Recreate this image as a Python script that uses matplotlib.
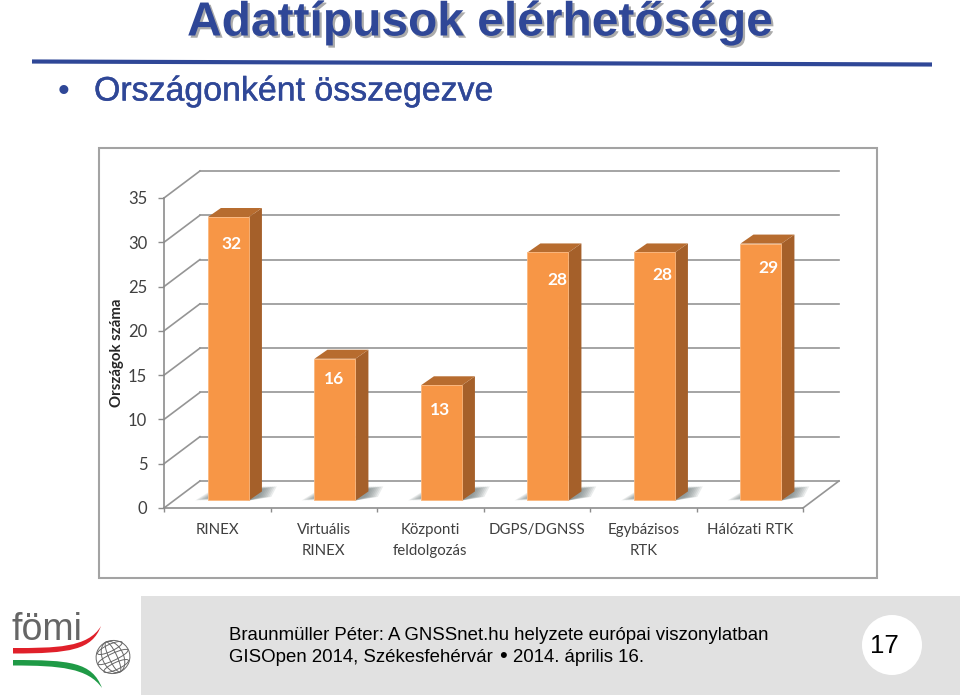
import numpy as np
import matplotlib
matplotlib.use("Agg")
import matplotlib.pyplot as plt
import matplotlib.patheffects as pe
from matplotlib.patches import Rectangle, Circle, Ellipse, PathPatch
from matplotlib.path import Path

categories = ["RINEX", "Virtuális\nRINEX", "Központi\nfeldolgozás", "DGPS/DGNSS", "Egybázisos\nRTK", "Hálózati RTK"]
values = [32, 16, 13, 28, 28, 29]
y_ticks = [0, 5, 10, 15, 20, 25, 30, 35]
y_label = "Országok száma"
title = "Adattípusok elérhetősége"
bullet = "Országonként összegezve"
footer1 = "Braunmüller Péter: A GNSSnet.hu helyzete európai viszonylatban"
footer2_left = "GISOpen 2014, Székesfehérvár"
footer2_right = "2014. április 16."
page = "17"

W, H = 960, 695
fig = plt.figure(figsize=(W / 100, H / 100), dpi=100, facecolor="white")

# slide layer in pixel coordinates
bg = fig.add_axes([0, 0, 1, 1])
bg.set_xlim(0, W); bg.set_ylim(H, 0); bg.axis("off")
NAVY = "#2F4797"
bg.text(480, 23, title, ha="center", va="center", fontsize=34.5, fontweight="bold",
        family="Liberation Sans", color=NAVY,
        path_effects=[pe.SimplePatchShadow(offset=(1.6, -1.6), shadow_rgbFace="#666666", alpha=0.55), pe.Normal()])
bg.plot([32, 932], [61.5, 64.5], color=NAVY, lw=3, solid_capstyle="butt")
bg.text(58, 92, "\u2022", ha="left", va="center", fontsize=24, family="Liberation Sans", color=NAVY)
bg.text(94, 92, bullet, ha="left", va="center", fontsize=24.4, family="Liberation Sans", color=NAVY,
        path_effects=[pe.withStroke(linewidth=0.3, foreground=NAVY)])
bg.add_patch(Rectangle((99, 148), 778, 430, fc="white", ec="#A3A3A3", lw=1.5))
bg.add_patch(Rectangle((141, 596), 819, 99, fc="#E1E1E1", ec="none"))
bg.add_patch(Circle((892, 645), 30, fc="white", ec="none"))
bg.text(884.5, 646, page, ha="center", va="center", fontsize=18.5, family="Liberation Sans", color="black")
bg.text(229, 635, footer1, ha="left", va="center", fontsize=13.4, family="Liberation Sans", color="black")
bg.text(229, 657, footer2_left, ha="left", va="center", fontsize=13.4, family="Liberation Sans", color="black")
bg.text(503, 656, "\u2022", ha="center", va="center", fontsize=16, family="Liberation Sans", color="black")
bg.text(513, 657, footer2_right, ha="left", va="center", fontsize=13.4, family="Liberation Sans", color="black")

# logo
bg.text(11, 640, "fömi", ha="left", va="baseline", fontsize=27, family="Liberation Sans", color="#666666")
C4 = Path.CURVE4
red = Path([(13, 648), (55, 648), (88, 648), (101, 626), (92, 650), (70, 653.5), (13, 653.5), (13, 648)],
           [Path.MOVETO, C4, C4, C4, C4, C4, C4, Path.CLOSEPOLY])
green = Path([(13, 660), (70, 660), (92, 662), (102, 688), (88, 668), (60, 665.5), (13, 665.5), (13, 660)],
             [Path.MOVETO, C4, C4, C4, C4, C4, C4, Path.CLOSEPOLY])
bg.add_patch(PathPatch(red, fc="#E0202A", ec="none"))
bg.add_patch(PathPatch(green, fc="#1F9A46", ec="none"))
for w in (34, 21, 8):
    bg.add_patch(Ellipse((113, 657), w, 33, angle=-25, fc="none", ec="#666666", lw=0.7))
for d, w in ((0, 33), (-9, 27), (9, 27)):
    bg.add_patch(Ellipse((113 + d * 0.35, 657 + d), w, 7, angle=-25, fc="none", ec="#666666", lw=0.7))

# chart axes: front plane of the 3D box
ax = fig.add_axes([164 / W, 1 - 508 / H, 639 / W, 310 / H])
ax.set_xlim(0, 6); ax.set_ylim(0, 35)
ax.patch.set_alpha(0)
for s in ("top", "right"):
    ax.spines[s].set_visible(False)
for s in ("left", "bottom"):
    ax.spines[s].set_color("#8C8C8C"); ax.spines[s].set_linewidth(1.2)

DX, DY = 0.3375, 3.05          # depth of the chart box
GRID = "#959595"
for t in y_ticks:
    ax.plot([0, DX], [t, t + DY], color=GRID, lw=1.2, clip_on=False, zorder=1)
    ax.plot([DX, 6 + DX], [t + DY, t + DY], color=GRID, lw=1.2, clip_on=False, zorder=1)
ax.plot([6, 6 + DX], [0, DY], color=GRID, lw=1.2, clip_on=False, zorder=1)

xpos = np.arange(len(values)) + 0.5
BW = 0.385
SX, SY = 0.105, 0.85           # offset of bars into the box
BX, BY = 0.122, 1.02           # depth of each bar
FACE, SIDE, TOP = "#F79646", "#A5602A", "#B76C2F"
for x, v in zip(xpos, values):
    l, r = x + SX - BW / 2, x + SX + BW / 2
    for k in np.linspace(1.0, 0.15, 8):          # soft floor shadow
        ax.fill([l - 0.12 * k, l, r, r + 0.07 + 0.14 * k, r + BX + 0.14 * k],
                [SY, SY + 0.9 * k, SY, SY + 0.4, SY + 1.6],
                color="#5F6E6E", alpha=0.13, lw=0, zorder=2, clip_on=False)
    ax.fill([r, r + BX, r + BX, r], [SY, SY + BY, v + SY + BY, v + SY], color=SIDE, lw=0, zorder=3)
    ax.fill([l, r, r + BX, l + BX], [v + SY, v + SY, v + SY + BY, v + SY + BY], color=TOP, lw=0, zorder=3)
ax.bar(xpos + SX, values, width=BW, bottom=SY, color=FACE, edgecolor="#FBB77E", linewidth=0.6, zorder=4)
for x, v, drop, nudge in zip(xpos, values, (3, 2.3, 2.8, 3.1, 2.6, 2.8), (0.025, -0.01, -0.01, 0.09, 0.07, 0.07)):
    ax.text(x + SX + nudge, v + SY - drop, str(v), ha="center", va="center", color="white",
            fontsize=12.5, fontweight="bold", family="Lato", zorder=5)

ax.set_yticks(y_ticks)
ax.set_xticks(np.arange(0, 7))
ax.set_xticklabels([])
ax.tick_params(axis="y", length=4, width=1, color="#8C8C8C", labelsize=12, labelcolor="#404040", pad=8)
ax.tick_params(axis="x", length=3, width=1, color="#8C8C8C", direction="out")
for lab in ax.get_yticklabels():
    lab.set_family("Lato")
for x, c in zip(xpos, categories):
    ax.annotate(c, (x, 0), xytext=(0, -11), textcoords="offset points", ha="center", va="top",
                fontsize=10.8, family="Lato", color="#404040", linespacing=1.65, annotation_clip=False)
ax.text(-0.44, 17.5, y_label, rotation=90, ha="center", va="center", fontsize=10.8,
        fontweight="bold", family="Lato", color="#262626")

fig.savefig("out.png", dpi=100)
